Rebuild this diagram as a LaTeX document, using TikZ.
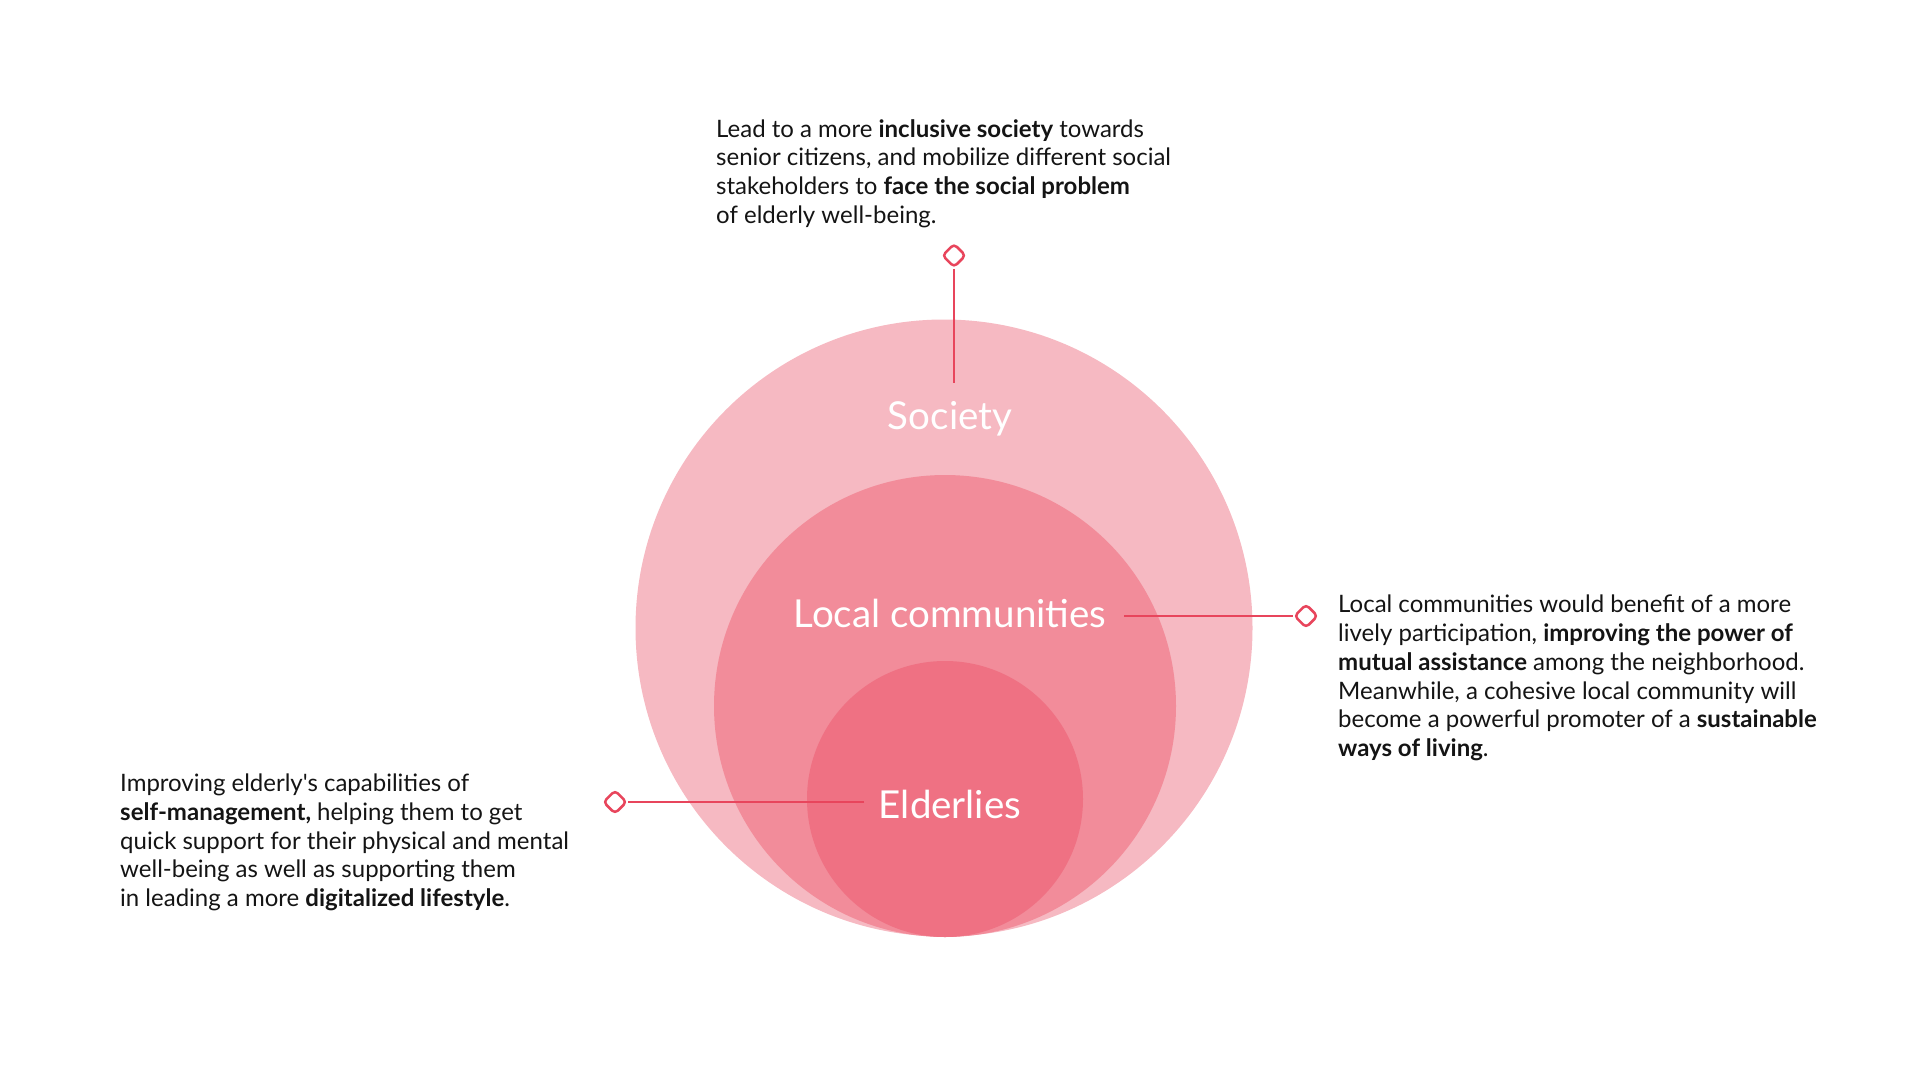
\documentclass[tikz,border=0pt]{standalone}
\usepackage{fontspec}
\newfontfamily\bodyfont{Lato}
\usetikzlibrary{shapes.geometric}
\definecolor{ringout}{HTML}{F6B9C2}
\definecolor{ringmid}{HTML}{F28C9A}
\definecolor{ringin}{HTML}{EF7183}
\definecolor{pinred}{HTML}{E8455C}
\definecolor{ink}{HTML}{141414}
\pgfdeclarelayer{filllayer}
\pgfdeclarelayer{edgelayer}
\pgfdeclarelayer{nodelayer}
\pgfsetlayers{filllayer,edgelayer,nodelayer,main}
\tikzstyle{none} = [inner sep=0]
\tikzstyle{ring} = [circle, inner sep=0]
\tikzstyle{ringlabel} = [inner sep=0, text=white, font=\bodyfont\fontsize{38.5}{44}\selectfont]
\tikzstyle{note} = [inner sep=0, anchor=west, align=left, text=ink, font=\bodyfont\fontsize{24}{28.7}\selectfont]
\tikzstyle{pin} = [diamond, draw=pinred, fill=white, line width=2.5pt, inner sep=0, minimum width=24pt, minimum height=24pt, rounded corners=4pt]
\tikzstyle{pinline} = [draw=pinred, line width=2.2pt]

\begin{document}
\begin{tikzpicture}[x=1pt, y=-1pt]
	\useasboundingbox (0, 0) rectangle (1920, 1080);
	\begin{pgfonlayer}{filllayer}
		\node [style=ring, fill=ringout, minimum size=617pt] (0) at (944, 628) {};
		\node [style=ring, fill=ringmid, minimum size=462pt] (1) at (945, 706) {};
		\node [style=ring, fill=ringin, minimum size=276pt] (2) at (945, 799) {};
	\end{pgfonlayer}
	\begin{pgfonlayer}{nodelayer}
		\node [style=ringlabel] (3) at (950, 419) {Society};
		\node [style=ringlabel] (4) at (950, 613) {Local communities};
		\node [style=ringlabel] (5) at (950, 804) {Elderlies};
		\node [style=pin] (6) at (954, 255.5) {};
		\node [style=pin] (7) at (1306, 616) {};
		\node [style=pin] (8) at (615, 802) {};
		\coordinate (9) at (954, 383);
		\coordinate (10) at (1124, 616);
		\coordinate (11) at (864, 802);
		\node [style=note] (12) at (716, 173.5) {Lead to a more \textbf{inclusive society} towards\\
			senior citizens, and mobilize different social\\
			stakeholders to \textbf{face the social problem}\\
			of elderly well-being.};
		\node [style=note] (13) at (1338, 678) {Local communities would benefit of a more\\
			lively participation, \textbf{improving the power of}\\
			\textbf{mutual assistance} among the neighborhood.\\
			Meanwhile, a cohesive local community will\\
			become a powerful promoter of a \textbf{sustainable}\\
			\textbf{ways of living}.};
		\node [style=note] (14) at (120, 842.5) {Improving elderly's capabilities of\\
			\textbf{self-management,} helping them to get\\
			quick support for their physical and mental\\
			well-being as well as supporting them\\
			in leading a more \textbf{digitalized lifestyle}.};
	\end{pgfonlayer}
	\begin{pgfonlayer}{edgelayer}
		\draw [style=pinline] (6) to (9);
		\draw [style=pinline] (10) to (7);
		\draw [style=pinline] (11) to (8);
	\end{pgfonlayer}
\end{tikzpicture}
\end{document}
